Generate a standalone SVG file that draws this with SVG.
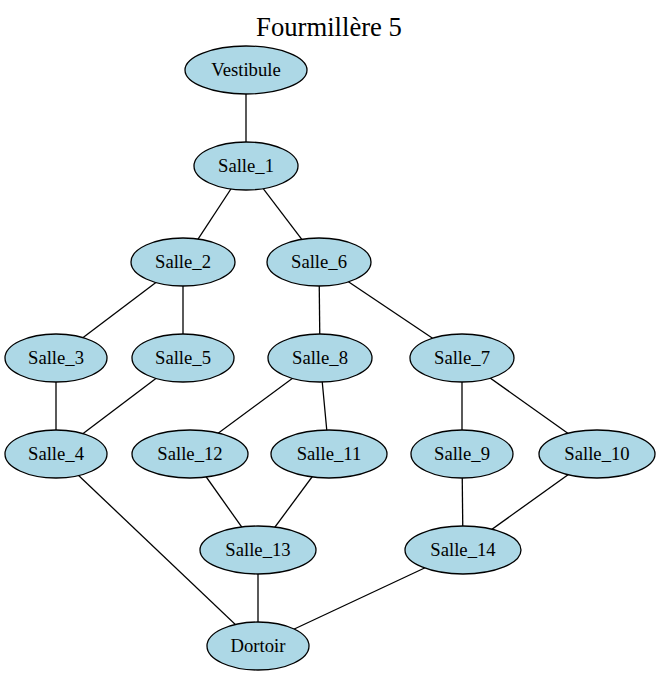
<svg xmlns="http://www.w3.org/2000/svg" width="658" height="675" viewBox="0 0 658 675">
<style>
.n ellipse{fill:#add8e6;stroke:#000;stroke-width:1.3}
.n text{font-family:'Liberation Serif','Times New Roman','DejaVu Serif',serif;font-size:18.67px;text-anchor:middle;fill:#000}
#edges line{stroke:#000;stroke-width:1.3}
.title{font-family:'Liberation Serif','Times New Roman','DejaVu Serif',serif;font-size:26.67px;text-anchor:middle;fill:#000}
</style>
<rect width="658" height="675" fill="#fff"/>
<text class="title" x="329" y="36">Fourmillère 5</text>
<g id="edges">
<line x1="246" y1="70" x2="246" y2="166"/>
<line x1="246" y1="166" x2="183" y2="262"/>
<line x1="246" y1="166" x2="319" y2="262"/>
<line x1="183" y1="262" x2="56" y2="358"/>
<line x1="183" y1="262" x2="183" y2="358"/>
<line x1="319" y1="262" x2="320" y2="358"/>
<line x1="319" y1="262" x2="462" y2="358"/>
<line x1="56" y1="358" x2="56" y2="454"/>
<line x1="183" y1="358" x2="56" y2="454"/>
<line x1="320" y1="358" x2="190" y2="454"/>
<line x1="320" y1="358" x2="329" y2="454"/>
<line x1="462" y1="358" x2="462" y2="454"/>
<line x1="462" y1="358" x2="597" y2="454"/>
<line x1="190" y1="454" x2="258" y2="550"/>
<line x1="329" y1="454" x2="258" y2="550"/>
<line x1="462" y1="454" x2="463" y2="550"/>
<line x1="597" y1="454" x2="463" y2="550"/>
<line x1="56" y1="454" x2="258" y2="646"/>
<line x1="258" y1="550" x2="258" y2="646"/>
<line x1="463" y1="550" x2="258" y2="646"/>
</g>
<g id="Vestibule" class="n"><ellipse cx="246" cy="70" rx="61" ry="24"/><text x="246" y="76">Vestibule</text></g>
<g id="Salle_1" class="n"><ellipse cx="246" cy="166" rx="52" ry="24"/><text x="246" y="172">Salle_1</text></g>
<g id="Salle_2" class="n"><ellipse cx="183" cy="262" rx="52" ry="24"/><text x="183" y="268">Salle_2</text></g>
<g id="Salle_6" class="n"><ellipse cx="319" cy="262" rx="52" ry="24"/><text x="319" y="268">Salle_6</text></g>
<g id="Salle_3" class="n"><ellipse cx="56" cy="358" rx="51" ry="24"/><text x="56" y="364">Salle_3</text></g>
<g id="Salle_5" class="n"><ellipse cx="183" cy="358" rx="51" ry="24"/><text x="183" y="364">Salle_5</text></g>
<g id="Salle_8" class="n"><ellipse cx="320" cy="358" rx="52" ry="24"/><text x="320" y="364">Salle_8</text></g>
<g id="Salle_7" class="n"><ellipse cx="462" cy="358" rx="52" ry="24"/><text x="462" y="364">Salle_7</text></g>
<g id="Salle_4" class="n"><ellipse cx="56" cy="454" rx="51" ry="24"/><text x="56" y="460">Salle_4</text></g>
<g id="Salle_12" class="n"><ellipse cx="190" cy="454" rx="58" ry="24"/><text x="190" y="460">Salle_12</text></g>
<g id="Salle_11" class="n"><ellipse cx="329" cy="454" rx="58" ry="24"/><text x="329" y="460">Salle_11</text></g>
<g id="Salle_9" class="n"><ellipse cx="462" cy="454" rx="51" ry="24"/><text x="462" y="460">Salle_9</text></g>
<g id="Salle_10" class="n"><ellipse cx="597" cy="454" rx="58" ry="24"/><text x="597" y="460">Salle_10</text></g>
<g id="Salle_13" class="n"><ellipse cx="258" cy="550" rx="58" ry="24"/><text x="258" y="556">Salle_13</text></g>
<g id="Salle_14" class="n"><ellipse cx="463" cy="550" rx="58" ry="24"/><text x="463" y="556">Salle_14</text></g>
<g id="Dortoir" class="n"><ellipse cx="258" cy="646" rx="51" ry="24"/><text x="258" y="652">Dortoir</text></g>
</svg>
